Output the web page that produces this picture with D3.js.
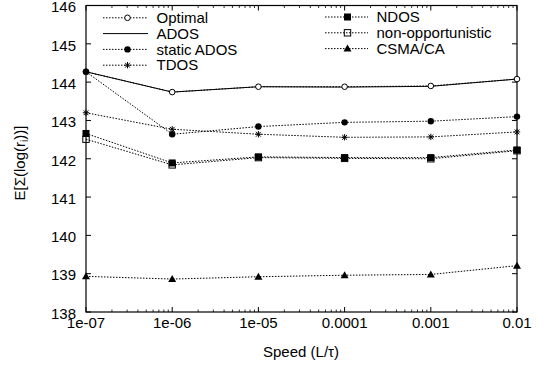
<!DOCTYPE html>
<html><head><meta charset="utf-8">
<script src="https://cdn.jsdelivr.net/npm/d3@7"></script>
<style>body{margin:0;background:#fff}svg{display:block}text{font-family:"Liberation Sans",Arial,sans-serif}</style>
</head><body><svg id="c" width="548" height="366"></svg>
<script>
const speeds = [1e-7, 1e-6, 1e-5, 1e-4, 1e-3, 1e-2];
const xTickLabels = ["1e-07","1e-06","1e-05","0.0001","0.001","0.01"];
const yTicks = [138,139,140,141,142,143,144,145,146];
const optimal   = [144.27, 143.74, 143.88, 143.88, 143.90, 144.08];
const ados      = [144.27, 143.74, 143.88, 143.87, 143.89, 144.08];
const staticAdos= [144.27, 142.64, 142.84, 142.95, 142.98, 143.10];
const tdos      = [143.20, 142.77, 142.64, 142.56, 142.57, 142.70];
const ndos      = [142.66, 141.89, 142.05, 142.03, 142.03, 142.23];
const nonOpp    = [142.51, 141.84, 142.03, 142.01, 142.00, 142.21];
const csma      = [138.93, 138.86, 138.92, 138.96, 138.98, 139.21];

const series = [
  {name:"Optimal", vals:optimal, dash:"1.5,1.5", marker:"ocircle", col:0, row:0},
  {name:"ADOS", vals:ados, dash:null, marker:null, col:0, row:1},
  {name:"static ADOS", vals:staticAdos, dash:"1.5,1.5", marker:"fcircle", col:0, row:2},
  {name:"TDOS", vals:tdos, dash:"1.5,1.5", marker:"star", col:0, row:3},
  {name:"NDOS", vals:ndos, dash:"1.5,1.5", marker:"fsquare", col:1, row:0},
  {name:"non-opportunistic", vals:nonOpp, dash:"1.5,1.5", marker:"osquare", col:1, row:1},
  {name:"CSMA/CA", vals:csma, dash:"1.5,1.5", marker:"ftri", col:1, row:2}
];

const L=86, R=517, T=5.5, B=312;
const svg = d3.select("#c");
const x = d3.scaleLog().domain([1e-7,1e-2]).range([L,R]);
const y = d3.scaleLinear().domain([138,146]).range([B,T]);
const fs = 15;

const minor=[];
for(let e=-7;e<-2;e++) for(let m=2;m<=9;m++) minor.push(m*Math.pow(10,e));
const g = svg.append("g");
minor.forEach(v=>{
  g.append("line").attr("x1",x(v)).attr("x2",x(v)).attr("y1",B).attr("y2",B-2.5).attr("stroke","#000").attr("stroke-width",0.8);
  g.append("line").attr("x1",x(v)).attr("x2",x(v)).attr("y1",T).attr("y2",T+2.5).attr("stroke","#000").attr("stroke-width",0.8);
});
speeds.forEach((v,i)=>{
  g.append("line").attr("x1",x(v)).attr("x2",x(v)).attr("y1",B).attr("y2",B-5).attr("stroke","#000");
  g.append("line").attr("x1",x(v)).attr("x2",x(v)).attr("y1",T).attr("y2",T+5).attr("stroke","#000");
  g.append("text").attr("x",x(v)).attr("y",B+16).attr("text-anchor","middle").attr("font-size",fs).text(xTickLabels[i]);
});
yTicks.forEach(v=>{
  g.append("line").attr("x1",L).attr("x2",L+5).attr("y1",y(v)).attr("y2",y(v)).attr("stroke","#000");
  g.append("line").attr("x1",R).attr("x2",R-5).attr("y1",y(v)).attr("y2",y(v)).attr("stroke","#000");
  g.append("text").attr("x",L-10).attr("y",y(v)+1.5).attr("dy","0.35em").attr("text-anchor","end").attr("font-size",fs).text(v);
});
g.append("rect").attr("x",L).attr("y",T).attr("width",R-L).attr("height",B-T).attr("fill","none").attr("stroke","#000").attr("stroke-width",1.2);

svg.append("text").attr("x",301).attr("y",357).attr("text-anchor","middle").attr("font-size",fs).text("Speed (L/τ)");
const yl = svg.append("text").attr("transform","translate(25,163) rotate(-90)").attr("text-anchor","middle").attr("font-size",fs);
yl.append("tspan").text("E[Σ(log(r");
yl.append("tspan").attr("font-size",fs*0.7).attr("dy",3).text("i");
yl.append("tspan").attr("dy",-3).text("))]");

function marker(sel, type, cx, cy){
  if(!type) return;
  const s=3.2;
  if(type==="ocircle") sel.append("circle").attr("cx",cx).attr("cy",cy).attr("r",2.8).attr("fill","#fff").attr("stroke","#000").attr("stroke-width",1);
  if(type==="fcircle") sel.append("circle").attr("cx",cx).attr("cy",cy).attr("r",3.2).attr("fill","#000");
  if(type==="fsquare") sel.append("rect").attr("x",cx-3.5).attr("y",cy-3.5).attr("width",7).attr("height",7).attr("fill","#000");
  if(type==="osquare") sel.append("rect").attr("x",cx-3.2).attr("y",cy-3.2).attr("width",6.4).attr("height",6.4).attr("fill","none").attr("stroke","#000").attr("stroke-width",1);
  if(type==="ftri") sel.append("path").attr("d",`M${cx},${cy-4}L${cx+4},${cy+3}L${cx-4},${cy+3}Z`).attr("fill","#000");
  if(type==="star") sel.append("path").attr("d",`M${cx-s},${cy}H${cx+s}M${cx},${cy-s}V${cy+s}M${cx-s*0.75},${cy-s*0.75}L${cx+s*0.75},${cy+s*0.75}M${cx-s*0.75},${cy+s*0.75}L${cx+s*0.75},${cy-s*0.75}`).attr("stroke","#000").attr("stroke-width",1);
}

const line = d3.line().x((d,i)=>x(speeds[i])).y(d=>y(d));
const plot = svg.append("g");
const order=[1,0,2,3,4,5,6];
order.forEach(k=>{
  const s=series[k];
  plot.append("path").attr("d",line(s.vals)).attr("fill","none").attr("stroke","#000").attr("stroke-width",1).attr("stroke-dasharray",s.dash);
  s.vals.forEach((v,i)=>marker(plot,s.marker,x(speeds[i]),y(v)));
});

const lg = svg.append("g");
series.forEach(s=>{
  const x0 = s.col===0?103:325, x1 = s.col===0?148:368, tx = s.col===0?156.5:376.5;
  const yy = (s.col===0?17.8:17) + s.row*15.8;
  lg.append("line").attr("x1",x0).attr("x2",x1).attr("y1",yy).attr("y2",yy).attr("stroke","#000").attr("stroke-width",1).attr("stroke-dasharray",s.dash);
  marker(lg,s.marker,(x0+x1)/2+ (s.col===0?2:1),yy);
  lg.append("text").attr("x",tx).attr("y",yy).attr("dy","0.35em").attr("font-size",fs).text(s.name);
});
</script></body></html>
